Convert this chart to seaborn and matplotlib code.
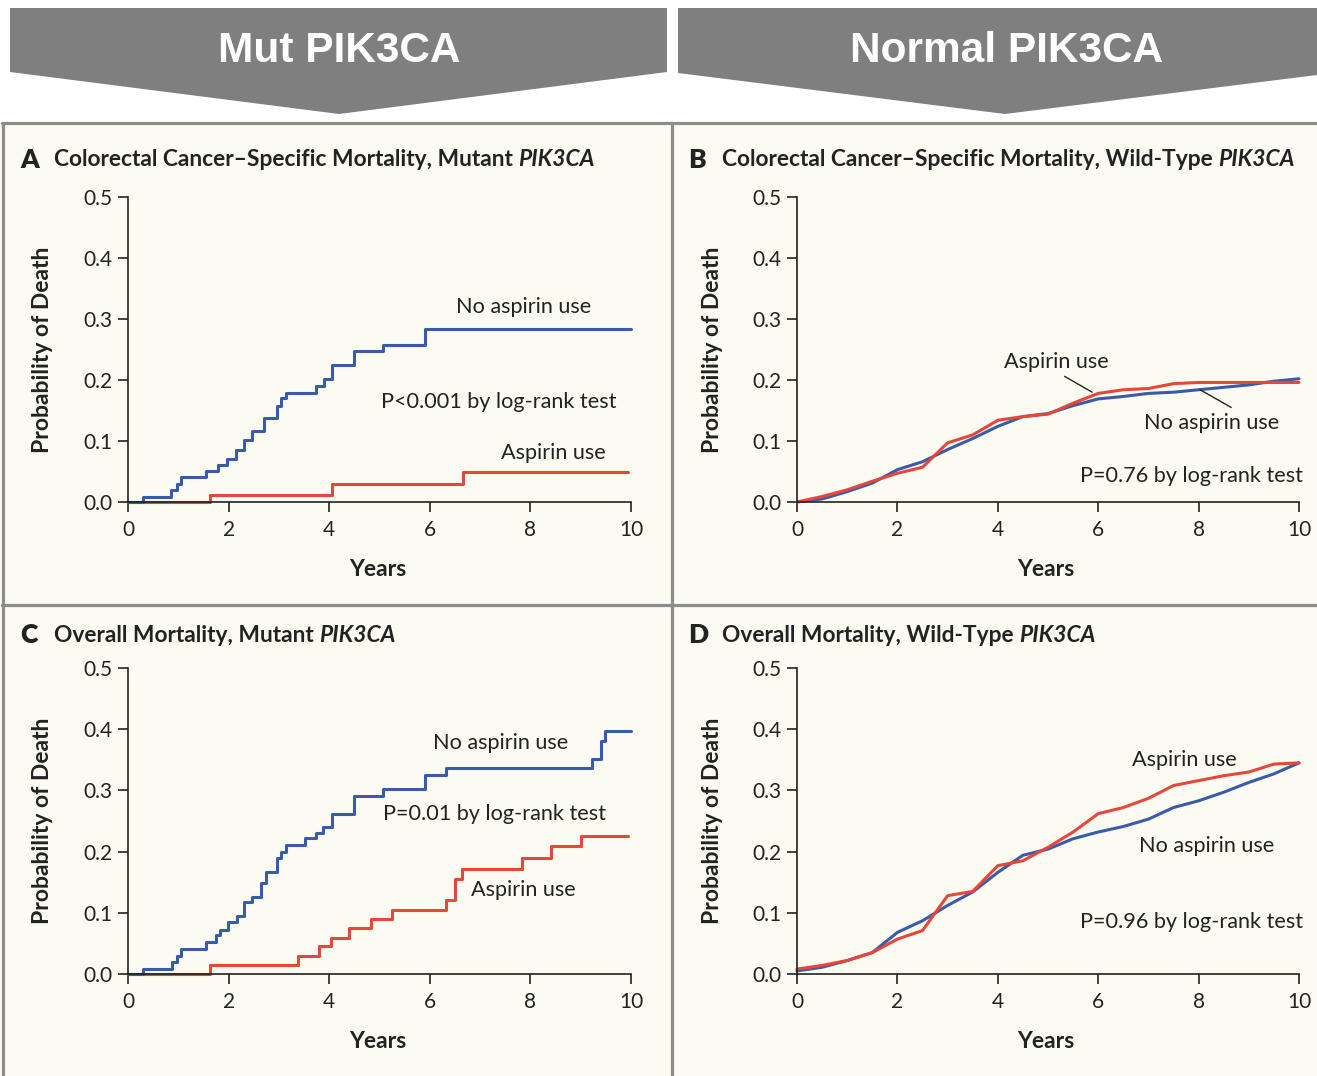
import matplotlib
matplotlib.use("Agg")
import matplotlib.pyplot as plt
import seaborn as sns
import pandas as pd
from matplotlib.patches import Polygon, Rectangle
from matplotlib.lines import Line2D

# ---------------- data ----------------
# Panel A: colorectal cancer-specific mortality, mutant PIK3CA (step curves)
a_no_t = [0, 0.29, 0.86, 0.97, 1.05, 1.56, 1.79, 1.96, 2.14, 2.30, 2.46, 2.71, 2.96, 3.04,
          3.14, 3.74, 3.90, 4.06, 4.49, 5.06, 5.91, 10.0]
a_no_v = [0, 0.009, 0.02, 0.03, 0.041, 0.051, 0.061, 0.071, 0.085, 0.102, 0.116, 0.137, 0.157,
          0.17, 0.179, 0.19, 0.202, 0.224, 0.247, 0.258, 0.283, 0.283]
a_asp_t = [0, 1.64, 4.06, 6.66, 9.95]
a_asp_v = [0, 0.012, 0.030, 0.049, 0.049]

# Panel C: overall mortality, mutant PIK3CA (step curves)
c_no_t = [0, 0.29, 0.88, 0.97, 1.06, 1.56, 1.75, 1.82, 1.98, 2.16, 2.30, 2.46, 2.64, 2.75,
          2.96, 3.05, 3.15, 3.51, 3.74, 3.87, 4.06, 4.49, 5.06, 5.91, 6.32, 9.22, 9.40, 9.49, 10.0]
c_no_v = [0, 0.008, 0.02, 0.03, 0.041, 0.053, 0.063, 0.072, 0.085, 0.095, 0.117, 0.126, 0.149,
          0.167, 0.189, 0.199, 0.21, 0.222, 0.23, 0.241, 0.261, 0.291, 0.302, 0.325, 0.336,
          0.352, 0.381, 0.397, 0.397]
c_asp_t = [0, 1.64, 3.37, 3.80, 4.04, 4.40, 4.83, 5.25, 6.32, 6.51, 6.64, 7.83, 8.40, 9.00, 9.95]
c_asp_v = [0, 0.015, 0.030, 0.045, 0.059, 0.075, 0.090, 0.105, 0.121, 0.155, 0.171, 0.189,
           0.209, 0.226, 0.226]

# Panels B and D: wild-type PIK3CA, values read every half year
years_half = [0, 0.5, 1.0, 1.5, 2.0, 2.5, 3.0, 3.5, 4.0, 4.5, 5.0, 5.5, 6.0, 6.5, 7.0,
              7.5, 8.0, 8.5, 9.0, 9.5, 10.0]
b_asp_v = [0, 0.009, 0.02, 0.034, 0.047, 0.057, 0.097, 0.110, 0.134, 0.140, 0.144, 0.162,
           0.178, 0.184, 0.186, 0.194, 0.196, 0.196, 0.196, 0.196, 0.196]
b_no_v = [0, 0.005, 0.017, 0.031, 0.053, 0.066, 0.086, 0.104, 0.124, 0.140, 0.145, 0.158,
          0.169, 0.173, 0.178, 0.180, 0.184, 0.188, 0.192, 0.198, 0.202]
d_asp_v = [0.008, 0.014, 0.022, 0.035, 0.057, 0.071, 0.128, 0.135, 0.177, 0.185, 0.207, 0.232,
           0.262, 0.272, 0.287, 0.308, 0.316, 0.324, 0.330, 0.343, 0.345]
d_no_v = [0.005, 0.011, 0.022, 0.035, 0.068, 0.087, 0.112, 0.134, 0.166, 0.194, 0.204, 0.221,
          0.232, 0.241, 0.253, 0.272, 0.283, 0.297, 0.313, 0.327, 0.345]

xticks = [0, 2, 4, 6, 8, 10]
yticks = [0.0, 0.1, 0.2, 0.3, 0.4, 0.5]
ytick_labels = ["0.0", "0.1", "0.2", "0.3", "0.4", "0.5"]

banner_texts = ["Mut PIK3CA", "Normal PIK3CA"]
titles = {
    "A": ("Colorectal Cancer\u2013Specific Mortality, Mutant ", "PIK3CA"),
    "B": ("Colorectal Cancer\u2013Specific Mortality, Wild-Type ", "PIK3CA"),
    "C": ("Overall Mortality, Mutant ", "PIK3CA"),
    "D": ("Overall Mortality, Wild-Type ", "PIK3CA"),
}
pvals = {"A": "P<0.001 by log-rank test", "B": "P=0.76 by log-rank test",
         "C": "P=0.01 by log-rank test", "D": "P=0.96 by log-rank test"}

# ---------------- style ----------------
sns.set_theme(style="ticks")
plt.rcParams["font.family"] = ["Lato", "DejaVu Sans"]

BLUE = "#3A5BA8"
RED = "#E5473A"
INK = "#222222"
CREAM = "#FBFBF1"
BORDER = "#8C8C8C"
BANNER = "#7F7F7F"

W, H = 1317, 1076
fig = plt.figure(figsize=(W / 100, H / 100), dpi=100)
fig.patch.set_facecolor("white")


def fx(px):
    return px / W


def fy(py):
    return 1 - py / H


# cream panel background
fig.patches.append(Rectangle((0, 0), 1, fy(123), transform=fig.transFigure,
                             facecolor=CREAM, edgecolor="none", zorder=-10))

# banners
for pts in ([(10, 8), (667, 8), (667, 72), (339, 114), (10, 72)],
            [(678, 8), (1317, 8), (1317, 75), (1005, 114), (678, 73)]):
    fig.patches.append(Polygon([(fx(x), fy(y)) for x, y in pts], closed=True,
                               transform=fig.transFigure, facecolor=BANNER,
                               edgecolor="none", zorder=-5))
fig.text(fx(339), fy(51), banner_texts[0], ha="center", va="center", color="white",
         fontsize=30.5, fontweight="bold", family="Liberation Sans")
fig.text(fx(1007), fy(51), banner_texts[1], ha="center", va="center", color="white",
         fontsize=30.5, fontweight="bold", family="Liberation Sans")

# panel borders
for (x0, y0, x1, y1) in [(2, 123, 1317, 123), (2, 605, 1317, 605),
                         (3, 123, 3, 1076), (672, 123, 672, 1076)]:
    fig.add_artist(Line2D([fx(x0), fx(x1)], [fy(y0), fy(y1)], color=BORDER, lw=2.3,
                          transform=fig.transFigure, zorder=-4))

# axes positions (pixels): x0 -> x10, y0.0 -> y0.5
layout = {
    "A": (128, 631, 502, 197),
    "B": (797, 1299, 502, 197),
    "C": (128, 631, 974, 668),
    "D": (797, 1299, 974, 668),
}
title_pos = {"A": (20, 160), "B": (688, 160), "C": (20, 635), "D": (688, 635)}

renderer = fig.canvas.get_renderer()
axes = {}
for key, (xl, xr, yb, yt) in layout.items():
    ax = fig.add_axes([fx(xl), fy(yb), (xr - xl) / W, (yb - yt) / H])
    ax.set_facecolor("none")
    ax.set_xlim(0, 10)
    ax.set_ylim(0, 0.5)
    ax.set_xticks(xticks)
    ax.set_xticklabels([str(t) for t in xticks])
    ax.set_yticks(yticks)
    ax.set_yticklabels(ytick_labels)
    for s in ["top", "right"]:
        ax.spines[s].set_visible(False)
    for s in ["left", "bottom"]:
        ax.spines[s].set_color(INK)
        ax.spines[s].set_linewidth(1.2)
    ax.tick_params(direction="out", length=7, width=1.2, color=INK, labelcolor=INK,
                   labelsize=15, pad=4)
    ax.tick_params(axis="x", pad=6)
    ax.set_xlabel("")
    ax.set_ylabel("")
    axes[key] = ax

    # labels
    fig.text(fx((xl + xr) / 2 - 2), fy(569 if key in "AB" else 1042), "Years",
             ha="center", va="center", fontsize=16.5, fontweight="bold", color=INK)
    fig.text(fx(xl - 85), fy((yb + yt) / 2), "Probability of Death", rotation=90,
             ha="center", va="center", fontsize=16.5, fontweight="bold", color=INK)

    # title
    tx, ty = title_pos[key]
    fig.text(fx(tx), fy(ty), key, ha="left", va="center", fontsize=19,
             fontweight="heavy", color=INK)
    t1 = fig.text(fx(tx + 34), fy(ty), titles[key][0], ha="left", va="center",
                  fontsize=16.4, fontweight="bold", color=INK)
    bb = t1.get_window_extent(renderer=renderer)
    fig.text(bb.x1 / W, fy(ty), titles[key][1], ha="left", va="center",
             fontsize=16.4, fontweight="bold", fontstyle="italic", color=INK)


def draw(ax, t, v, color, steps):
    df = pd.DataFrame({"Years": t, "Prob": v})
    kw = dict(drawstyle="steps-post") if steps else {}
    sns.lineplot(data=df, x="Years", y="Prob", ax=ax, color=color, lw=2.2,
                 estimator=None, sort=False, clip_on=False, **kw)
    ax.set_xlabel("")
    ax.set_ylabel("")


draw(axes["A"], a_asp_t, a_asp_v, RED, True)
draw(axes["A"], a_no_t, a_no_v, BLUE, True)
draw(axes["C"], c_asp_t, c_asp_v, RED, True)
draw(axes["C"], c_no_t, c_no_v, BLUE, True)
draw(axes["B"], years_half, b_no_v, BLUE, False)
draw(axes["B"], years_half, b_asp_v, RED, False)
draw(axes["D"], years_half, d_no_v, BLUE, False)
draw(axes["D"], years_half, d_asp_v, RED, False)

# annotations
fs = 15.6
axA, axB, axC, axD = axes["A"], axes["B"], axes["C"], axes["D"]
axA.text(7.87, 0.320, "No aspirin use", ha="center", va="center", fontsize=fs, color=INK)
axA.text(7.38, 0.164, pvals["A"], ha="center", va="center", fontsize=fs, color=INK)
axA.text(8.45, 0.080, "Aspirin use", ha="center", va="center", fontsize=fs, color=INK)

axB.text(5.16, 0.230, "Aspirin use", ha="center", va="center", fontsize=fs, color=INK)
axB.text(8.25, 0.129, "No aspirin use", ha="center", va="center", fontsize=fs, color=INK)
axB.text(10.08, 0.042, pvals["B"], ha="right", va="center", fontsize=fs, color=INK)
axB.plot([5.33, 5.88], [0.206, 0.180], color=INK, lw=1.0)
axB.plot([8.65, 8.03], [0.155, 0.184], color=INK, lw=1.0)

axC.text(7.40, 0.377, "No aspirin use", ha="center", va="center", fontsize=fs, color=INK)
axC.text(7.28, 0.261, pvals["C"], ha="center", va="center", fontsize=fs, color=INK)
axC.text(7.87, 0.138, "Aspirin use", ha="center", va="center", fontsize=fs, color=INK)

axD.text(7.71, 0.349, "Aspirin use", ha="center", va="center", fontsize=fs, color=INK)
axD.text(8.15, 0.209, "No aspirin use", ha="center", va="center", fontsize=fs, color=INK)
axD.text(10.08, 0.085, pvals["D"], ha="right", va="center", fontsize=fs, color=INK)

fig.savefig("out.png", dpi=100, facecolor=fig.get_facecolor())
